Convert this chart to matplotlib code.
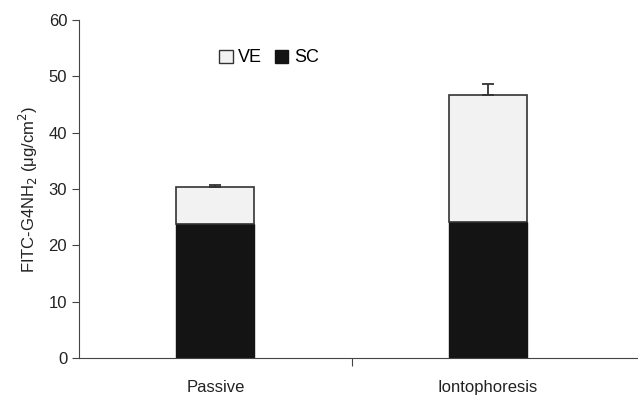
import matplotlib.pyplot as plt
import matplotlib.patches as mpatches

plt.rcParams['font.family'] = ['Liberation Sans', 'DejaVu Sans']
plt.rcParams['font.size'] = 12

categories = ['Passive', 'Iontophoresis']
sc = [23.8, 24.1]
ve = [6.6, 22.6]
err = [0.3, 1.9]

sc_color = '#141414'
ve_color = '#f2f2f2'
edge = '#333333'

fig = plt.figure(figsize=(6.38, 3.98), dpi=100)
ax = fig.add_axes([79 / 638, 1 - 358 / 398, 1 - 79 / 638, (358 - 20) / 398])

x = list(range(len(categories)))
width = 0.286
ax.bar(x, sc, width, color=sc_color, edgecolor=sc_color, linewidth=1)
ax.bar(x, ve, width, bottom=sc, color=ve_color, edgecolor=edge, linewidth=1.2,
       yerr=[[0] * len(err), err],
       error_kw=dict(ecolor=edge, capsize=4, elinewidth=1.3, capthick=1.3))

ax.set_xlim(-0.5, 1.55)
ax.set_ylim(0, 60)
ax.set_yticks(range(0, 61, 10))
ax.set_xticks([0.5])
ax.set_xticklabels([''])
for xi, c in zip(x, categories):
    ax.text(xi, -5.3, c, ha='center', va='center', color='#222222')

ax.spines['top'].set_visible(False)
ax.spines['right'].set_visible(False)
for s in ['left', 'bottom']:
    ax.spines[s].set_color('#444444')
ax.tick_params(axis='both', direction='out', length=5, color='#444444', labelcolor='#222222')
ax.tick_params(axis='x', length=6)
ax.set_ylabel('FITC-G4NH$_2$ (μg/cm$^2$)', color='#222222', labelpad=6)

handles = [mpatches.Patch(facecolor=ve_color, edgecolor=edge, label='VE'),
           mpatches.Patch(facecolor=sc_color, edgecolor=sc_color, label='SC')]
ax.legend(handles=handles, ncol=2, frameon=False, loc='center', fontsize=13,
          bbox_to_anchor=((269 - 79) / 559, (358 - 58) / 338),
          handlelength=0.75, handleheight=0.75, handletextpad=0.3, columnspacing=0.7)

fig.savefig('out.png', dpi=100)
